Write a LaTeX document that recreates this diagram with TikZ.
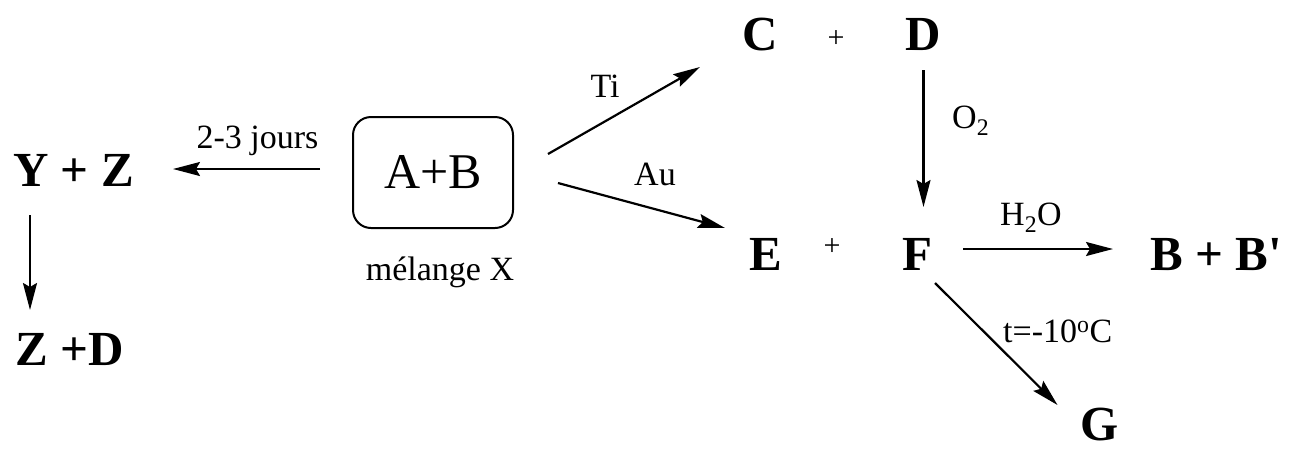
\documentclass[tikz,border=0pt]{standalone}
\usepackage{fontspec}
\setmainfont{Liberation Serif}
\usetikzlibrary{arrows.meta,calc}
\tikzset{
  sp/.style={inner sep=0pt, anchor=base, font=\fontsize{49}{55}\selectfont\bfseries},
  lbl/.style={inner sep=0pt, font=\fontsize{34}{40}\selectfont},
  plussign/.style={inner sep=0pt, anchor=base, font=\fontsize{30}{36}\selectfont},
  arr/.style={line width=2.2pt, -{Stealth[length=27pt,width=14pt,inset=4pt]}},
  mixbox/.style={draw, line width=2pt, rounded corners=18pt, minimum width=160pt,
    minimum height=111pt, inner sep=0pt, font=\fontsize{50}{56}\selectfont},
}
\begin{document}
\begin{tikzpicture}[x=1pt,y=-1pt]
\useasboundingbox (0,0) rectangle (1289,448);
% species
\node[sp] (YZ) at (73.5,186) {Y + Z};
\node[sp] (ZD) at (70,365) {Z +D};
\node[mixbox] (box) at (433,172.5) {A+B};
\node[lbl, anchor=base] (mel) at (440,280) {mélange X};
\node[sp] (C) at (760.5,50) {C};
\node[plussign] (p1) at (836,47) {+};
\node[sp] (D) at (923.5,50) {D};
\node[sp] (E) at (766,270) {E};
\node[plussign] (p2) at (832,255) {+};
\node[sp] (F) at (917.5,270) {F};
\node[sp] (BB) at (1216,270) {B + B\textquotesingle};
\node[sp] (G) at (1099.5,440) {G};
% labels
\node[lbl, anchor=base] (l23) at (257.5,148) {2-3 jours};
\node[lbl, anchor=base] (lTi) at (605,97) {Ti};
\node[lbl, anchor=base] (lAu) at (655,185) {Au};
\node[lbl, anchor=base west] (lO2) at (952,128) {O\textsubscript{2}};
\node[lbl, anchor=base west] (lH2O) at (1000,225) {H\textsubscript{2}O};
\node[lbl, anchor=base west] (lt) at (1003,342) {t=-10\textsuperscript{o}C};
% arrows
\draw[arr] ($(box.center)+(-113,-3.5)$) -- ($(YZ.base)+(99.5,-17)$);
\draw[arr] ($(YZ.base)+(-43.5,29)$) -- ($(ZD.base)+(-40,-55)$);
\draw[arr] ($(box.center)+(115,-18.5)$) -- ($(C.base)+(-60.5,17)$);
\draw[arr] ($(box.center)+(125,10.5)$) -- ($(E.base)+(-41,-42)$);
\draw[arr] ($(D.base)+(0,20)$) -- ($(F.base)+(6,-63)$);
\draw[arr] ($(F.base)+(45.5,-21)$) -- ($(BB.base)+(-103,-21)$);
\draw[arr] ($(F.base)+(17.5,13)$) -- ($(G.base)+(-42,-35)$);
\end{tikzpicture}
\end{document}
